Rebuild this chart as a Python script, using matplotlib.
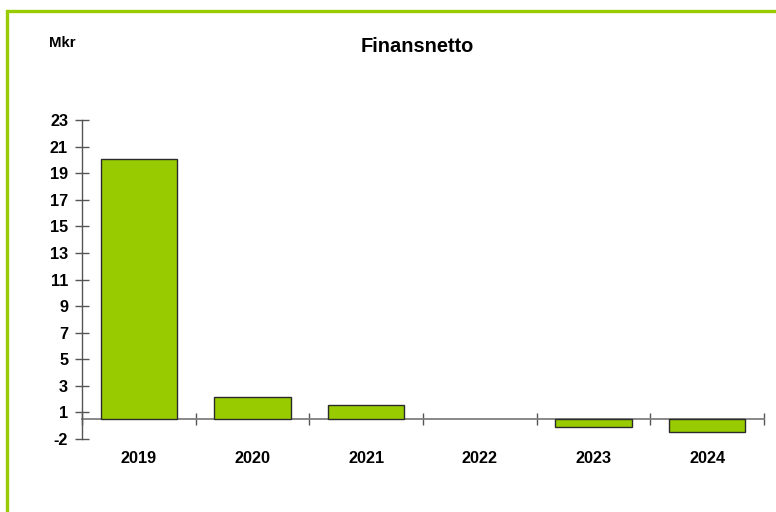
import matplotlib
matplotlib.use("Agg")
import matplotlib.pyplot as plt
from matplotlib.patches import Rectangle
import numpy as np

categories = ["2019", "2020", "2021", "2022", "2023", "2024"]
values = [19.6, 1.66, 1.05, 0.0, -0.62, -1.0]
ytick_values = [-1.5, 0.5, 2.5, 4.5, 6.5, 8.5, 10.5, 12.5, 14.5, 16.5, 18.5, 20.5, 22.5]
ytick_labels = ["-2", "1", "3", "5", "7", "9", "11", "13", "15", "17", "19", "21", "23"]
title = "Finansnetto"
unit = "Mkr"

plt.rcParams['font.family'] = ['Liberation Sans', 'DejaVu Sans']
plt.rcParams['font.weight'] = 'bold'

W, H = 776, 512
fig = plt.figure(figsize=(W / 100, H / 100), dpi=100)

# green frame (left and top edges visible)
fig.patches.append(Rectangle((7.0 / W, -0.1), 1.2, 1.1 - 11.0 / H, transform=fig.transFigure,
                             fill=False, edgecolor="#99CC00", linewidth=2.4, zorder=0))

ax = fig.add_axes([82 / W, 1 - 439 / H, 682 / W, 319 / H])
x = np.arange(len(categories))
bars = ax.bar(x, values, width=0.67, color="#99CC00", edgecolor="#2b2b2b", linewidth=1.0, zorder=3)
for b in bars:
    if b.get_height() == 0:
        b.set_visible(False)

ax.set_xlim(-0.5, len(categories) - 0.5)
ax.set_ylim(ytick_values[0], ytick_values[-1])

for s in ["top", "right"]:
    ax.spines[s].set_visible(False)
ax.spines["left"].set_color("#555555")
ax.spines["left"].set_linewidth(1.0)
ax.spines["bottom"].set_position(("data", 0))
ax.spines["bottom"].set_color("#7f7f7f")
ax.spines["bottom"].set_linewidth(1.3)
ax.spines["bottom"].set_bounds(-0.5, len(categories) - 0.5)
ax.spines["bottom"].set_zorder(2)

ax.set_yticks(ytick_values)
ax.set_yticklabels(ytick_labels)
ax.tick_params(axis="y", direction="inout", length=10, width=1.0, color="#555555",
               pad=5, labelsize=11.7, labelcolor="black")

ax.set_xticks(x)
ax.set_xticklabels(categories)
ax.set_xticks(np.arange(-0.5, len(categories), 1.0), minor=True)
ax.tick_params(axis="x", which="major", length=0, pad=23, labelsize=11.7)
ax.tick_params(axis="x", which="minor", direction="inout", length=9, width=1.0, color="#555555")

ax.set_facecolor("none")

fig.text(417 / W, 1 - 46 / H, title, ha="center", va="center", fontsize=14.4, fontweight="bold")
fig.text(49 / W, 1 - 43 / H, unit, ha="left", va="center", fontsize=10.8, fontweight="bold")

fig.savefig("out.png", dpi=100)
